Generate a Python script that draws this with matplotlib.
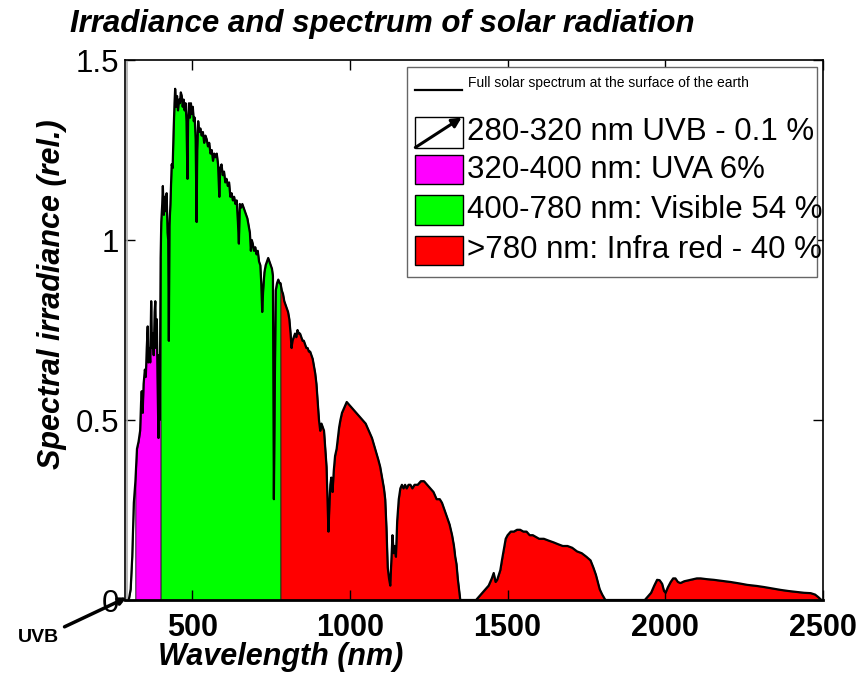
import matplotlib

matplotlib.use("Agg")
import matplotlib.pyplot as plt
import numpy as np
from matplotlib.patches import Rectangle, FancyArrowPatch
from matplotlib.lines import Line2D

plt.rcParams["font.family"] = ["Liberation Sans", "DejaVu Sans"]

# spectrum (wavelength nm, relative irradiance)
wavelength = [
    295, 300, 305, 310, 315, 320, 325, 330, 335, 338, 340, 343, 346, 350, 353, 356, 359, 361, 364, 367,
    370, 372, 375, 378, 381, 383, 385, 388, 390, 393, 395, 397, 399, 400, 402, 405, 407, 410, 413, 416,
    419, 422, 424, 426, 428, 431, 435, 438, 441, 444, 446, 449, 452, 455, 458, 461, 464, 467, 470, 473,
    476, 479, 482, 485, 487, 490, 493, 496, 499, 502, 505, 508, 511, 514, 516, 519, 522, 526, 530, 534,
    538, 542, 546, 550, 554, 558, 562, 566, 570, 574, 578, 582, 586, 589, 593, 597, 601, 605, 609, 613,
    617, 621, 625, 629, 633, 637, 641, 645, 648, 651, 655, 659, 663, 667, 671, 675, 679, 683, 686, 689,
    692, 696, 700, 704, 708, 712, 716, 719, 722, 725, 729, 733, 737, 741, 745, 749, 753, 756, 759, 762,
    765, 769, 773, 777, 780, 784, 788, 792, 796, 800, 804, 808, 812, 815, 818, 822, 826, 830, 834, 838,
    842, 846, 850, 854, 858, 862, 866, 870, 874, 878, 882, 886, 890, 894, 898, 902, 906, 910, 914, 918,
    922, 926, 929, 932, 935, 938, 941, 945, 949, 953, 958, 962, 966, 970, 975, 980, 985, 990, 995, 1000,
    1010, 1020, 1030, 1040, 1050, 1060, 1070, 1080, 1090, 1096, 1102, 1108, 1112, 1116, 1120, 1124, 1128, 1132, 1135, 1139,
    1142, 1146, 1150, 1155, 1160, 1165, 1170, 1175, 1180, 1186, 1192, 1198, 1205, 1215, 1225, 1235, 1245, 1255, 1265, 1275,
    1285, 1292, 1300, 1308, 1316, 1324, 1330, 1334, 1338, 1342, 1346, 1350, 1400, 1410, 1420, 1430, 1440, 1450, 1456, 1462,
    1467, 1472, 1477, 1482, 1488, 1494, 1500, 1510, 1520, 1530, 1540, 1550, 1560, 1570, 1580, 1590, 1600, 1615, 1630, 1646,
    1660, 1675, 1690, 1705, 1720, 1735, 1750, 1763, 1772, 1780, 1786, 1792, 1800, 1810, 1935, 1945, 1955, 1965, 1974, 1982,
    1990, 1996, 2001, 2008, 2017, 2025, 2032, 2040, 2048, 2060, 2080, 2100, 2112, 2130, 2154, 2180, 2207, 2235, 2260, 2290,
    2313, 2340, 2366, 2390, 2419, 2440, 2461, 2475, 2485, 2495,
]
irradiance = [
    0.0, 0.005, 0.03, 0.12, 0.27, 0.33, 0.42, 0.44, 0.47, 0.55, 0.58, 0.52, 0.60, 0.64, 0.62, 0.70, 0.76, 0.66, 0.70, 0.66,
    0.83, 0.70, 0.74, 0.68, 0.80, 0.83, 0.70, 0.78, 0.62, 0.45, 0.68, 0.50, 0.80, 0.95, 1.05, 1.10, 1.15, 1.07, 1.12, 1.08,
    1.13, 1.02, 1.00, 0.72, 1.04, 1.10, 1.21, 1.20, 1.30, 1.38, 1.42, 1.37, 1.40, 1.36, 1.39, 1.38, 1.41, 1.40, 1.37, 1.39,
    1.36, 1.38, 1.33, 1.17, 1.33, 1.38, 1.34, 1.38, 1.35, 1.37, 1.33, 1.34, 1.28, 1.05, 1.25, 1.33, 1.30, 1.31, 1.29, 1.30,
    1.27, 1.29, 1.28, 1.26, 1.27, 1.24, 1.25, 1.22, 1.24, 1.23, 1.24, 1.21, 1.12, 1.20, 1.21, 1.18, 1.19, 1.16, 1.17, 1.15,
    1.16, 1.12, 1.13, 1.11, 1.12, 1.10, 1.11, 1.05, 0.99, 1.10, 1.09, 1.10, 1.09, 1.08, 1.07, 1.06, 1.04, 1.02, 0.97, 1.00,
    0.99, 0.97, 0.98, 0.96, 0.97, 0.94, 0.93, 0.88, 0.80, 0.86, 0.91, 0.93, 0.94, 0.95, 0.94, 0.93, 0.92, 0.90, 0.28, 0.60,
    0.86, 0.88, 0.89, 0.88, 0.88, 0.86, 0.85, 0.83, 0.82, 0.81, 0.80, 0.78, 0.74, 0.70, 0.72, 0.73, 0.74, 0.73, 0.75, 0.74,
    0.74, 0.73, 0.72, 0.72, 0.71, 0.70, 0.70, 0.69, 0.69, 0.68, 0.67, 0.65, 0.63, 0.60, 0.55, 0.50, 0.47, 0.49, 0.48, 0.47,
    0.42, 0.37, 0.28, 0.19, 0.26, 0.32, 0.34, 0.30, 0.36, 0.40, 0.42, 0.45, 0.48, 0.50, 0.52, 0.53, 0.54, 0.55, 0.545, 0.54,
    0.53, 0.52, 0.51, 0.50, 0.49, 0.47, 0.45, 0.42, 0.39, 0.37, 0.34, 0.31, 0.28, 0.20, 0.09, 0.06, 0.04, 0.12, 0.18, 0.13,
    0.15, 0.12, 0.22, 0.28, 0.31, 0.32, 0.31, 0.32, 0.31, 0.32, 0.32, 0.31, 0.32, 0.32, 0.33, 0.33, 0.32, 0.31, 0.30, 0.28,
    0.28, 0.27, 0.25, 0.23, 0.21, 0.18, 0.15, 0.12, 0.10, 0.06, 0.03, 0.0, 0.0, 0.01, 0.02, 0.03, 0.04, 0.06, 0.075, 0.05,
    0.056, 0.07, 0.083, 0.11, 0.14, 0.17, 0.18, 0.19, 0.19, 0.195, 0.195, 0.19, 0.19, 0.18, 0.18, 0.175, 0.17, 0.17, 0.165, 0.16,
    0.155, 0.15, 0.15, 0.145, 0.135, 0.13, 0.12, 0.11, 0.09, 0.07, 0.05, 0.03, 0.015, 0.0, 0.0, 0.01, 0.02, 0.04, 0.056, 0.055,
    0.045, 0.025, 0.02, 0.035, 0.05, 0.06, 0.06, 0.05, 0.047, 0.052, 0.056, 0.06, 0.06, 0.058, 0.056, 0.053, 0.05, 0.046, 0.042, 0.039,
    0.036, 0.032, 0.028, 0.025, 0.022, 0.02, 0.019, 0.015, 0.008, 0.0,
]

band_edges = [280, 320, 400, 780, 2500]
band_colors = ["white", "#FF00FF", "#00FF00", "#FF0000"]
band_labels = [
    "280-320 nm UVB - 0.1 %",
    "320-400 nm: UVA 6%",
    "400-780 nm: Visible 54 %",
    ">780 nm: Infra red - 40 %",
]
line_label = "Full solar spectrum at the surface of the earth"

W, H = 862, 673
fig = plt.figure(figsize=(W / 100, H / 100), dpi=100)
ax = fig.add_axes([125 / W, 1 - 600 / H, 698 / W, 540 / H])


def fx(px):
    return px / W


def fy(py):
    return 1 - py / H


wl = np.array(wavelength)
irr = np.array(irradiance)

for i, col in enumerate(band_colors):
    lo, hi = band_edges[i], band_edges[i + 1]
    mask = (wl >= lo) & (wl <= hi)
    ax.fill_between(wl, 0, irr, where=mask, facecolor=col,
                    edgecolor="#555555" if i == 0 else "#222222", linewidth=0.6)
ax.plot(wl, irr, color="black", linewidth=1.6)
ax.axvline(292, color="#aaaaaa", linewidth=1.2)

ax.set_xlim(287, 2500)
ax.set_ylim(0, 1.5)
ax.set_xticks([500, 1000, 1500, 2000, 2500])
ax.set_xticklabels(["500", "1000", "1500", "2000", "2500"], fontsize=22, fontweight="bold")
ax.set_yticks([0, 0.5, 1, 1.5])
ax.set_yticklabels(["0", "0.5", "1", "1.5"], fontsize=22.5)
ax.tick_params(axis="both", direction="in", length=7, width=1, top=True, right=True)
ax.tick_params(axis="x", pad=9)
ax.tick_params(axis="y", pad=4)
for sp in ax.spines.values():
    sp.set_linewidth(1.2)
ax.spines["bottom"].set_linewidth(2)

ax.set_xlabel("Wavelength (nm)", fontsize=22, fontweight="bold", fontstyle="italic", va="center")
ax.xaxis.set_label_coords((281 - 125) / 698, -(657 - 600) / 540)
ax.set_ylabel("Spectral irradiance (rel.)", fontsize=22, fontweight="bold", fontstyle="italic", va="center")
ax.yaxis.set_label_coords((52 - 125) / 698, (600 - 294) / 540)

fig.text(fx(70), fy(24), "Irradiance and spectrum of solar radiation", fontsize=22.5,
         fontweight="bold", fontstyle="italic", ha="left", va="center")

# hand-made legend box
fig.add_artist(Rectangle((fx(407), fy(277)), fx(817) - fx(407), fy(67) - fy(277),
                         transform=fig.transFigure, facecolor="white", edgecolor="#666666", linewidth=1))
fig.add_artist(Line2D([fx(415), fx(462)], [fy(90), fy(90)], transform=fig.transFigure,
                      color="black", linewidth=1.6))
fig.text(fx(468), fy(83), line_label, fontsize=10, ha="left", va="center")

rows = [(117, 148), (155, 184), (195, 225), (236, 265)]
for (top, bot), col, lab in zip(rows, band_colors, band_labels):
    fig.add_artist(Rectangle((fx(415), fy(bot)), fx(463) - fx(415), fy(top) - fy(bot),
                             transform=fig.transFigure, facecolor=col, edgecolor="black", linewidth=1))
    fig.text(fx(467), fy((top + bot) / 2), lab, fontsize=22.5, ha="left", va="center")
fig.add_artist(FancyArrowPatch((fx(413), fy(149)), (fx(464), fy(116)), transform=fig.transFigure,
                               arrowstyle="-|>", mutation_scale=14, color="black", linewidth=2.2))

# UVB pointer
fig.text(fx(38), fy(637), "UVB", fontsize=14, fontweight="bold", ha="center", va="center")
ax.annotate("", xy=(300, 0.01), xycoords="data", xytext=(fx(62), fy(628)), textcoords="figure fraction",
            arrowprops=dict(arrowstyle="-|>", color="black", linewidth=2.5, mutation_scale=10),
            annotation_clip=False)

fig.savefig("out.png", dpi=100)
